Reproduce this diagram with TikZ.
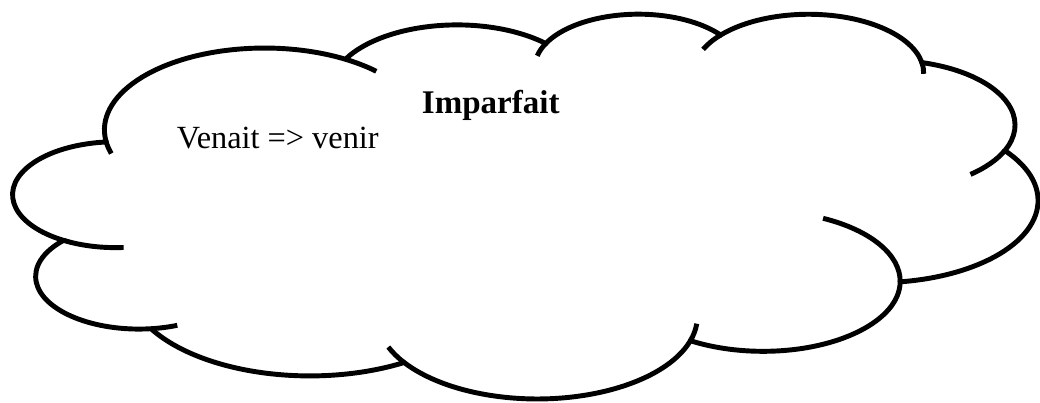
\documentclass[tikz,border=0pt]{standalone}
\usepackage{fontspec}
\setmainfont{Liberation Serif}

\begin{document}
\begin{tikzpicture}[%
      x=0.5927cm, y=-0.2226cm,
      cloudline/.style={color=black, line width=3.5pt},
      ]
      \useasboundingbox [fill=white] (-0.5673,-1.4544) rectangle (43.300,43.806);

      % outline of the cloud, one arc per bump
      \draw [cloudline, fill=white] (3.900,14.370) coordinate (j1)
        arc [start angle=-187.75, end angle=-59.64, x radius=6.753, y radius=9.190] coordinate (j2)
        arc [start angle=-152.03, end angle=-45.46, x radius=5.333, y radius=7.267] coordinate (j3)
        arc [start angle=-153.49, end angle=-37.33, x radius=4.365, y radius=5.945] coordinate (j4)
        arc [start angle=-139.72, end angle=-10.21, x radius=4.857, y radius=6.595] coordinate (j5)
        arc [start angle=-74.76, end angle=23.21, x radius=5.333, y radius=7.273] coordinate (j6)
        arc [start angle=-37.53, end angle=81.86, x radius=6.775, y radius=9.220] coordinate (j7)
        arc [start angle=0.46, end angle=121.98, x radius=5.785, y radius=7.867] coordinate (j8)
        arc [start angle=16.85, end angle=146.24, x radius=6.752, y radius=9.215] coordinate (j9)
        arc [start angle=58.99, end angle=150.19, x radius=7.720, y radius=10.543] coordinate (j10)
        arc [start angle=-276.69, end angle=-136.89, x radius=4.360, y radius=5.918] coordinate (j11)
        arc [start angle=-239.64, end angle=-95.89, x radius=4.345, y radius=5.945]
        -- cycle;

      % little hooks at the joints
      \draw [cloudline] (j1) arc [start angle=172.25, end angle=163.19, x radius=6.753, y radius=9.190];
      \draw [cloudline] (j2) arc [start angle=-59.64, end angle=-45.73, x radius=6.753, y radius=9.190];
      \draw [cloudline] (j3) arc [start angle=-153.49, end angle=-167.72, x radius=4.365, y radius=5.945];
      \draw [cloudline] (j4) arc [start angle=-139.72, end angle=-156.28, x radius=4.857, y radius=6.595];
      \draw [cloudline] (j5) arc [start angle=-10.21, end angle=0.82, x radius=4.857, y radius=6.595];
      \draw [cloudline] (j6) arc [start angle=23.21, end angle=49.64, x radius=5.333, y radius=7.273];
      \draw [cloudline] (j7) arc [start angle=0.46, end angle=-64.03, x radius=5.785, y radius=7.867];
      \draw [cloudline] (j8) arc [start angle=16.85, end angle=4.74, x radius=6.752, y radius=9.215];
      \draw [cloudline] (j9) arc [start angle=146.24, end angle=158.47, x radius=6.752, y radius=9.215];
      \draw [cloudline] (j10) arc [start angle=83.31, end angle=68.24, x radius=4.360, y radius=5.918];
      \draw [cloudline] (j11) arc [start angle=120.36, end angle=85.55, x radius=4.345, y radius=5.945];

      \node [anchor=base west, inner sep=0pt, font=\fontsize{23.5}{28}\selectfont\bfseries] (title) at (17.22,11.27) {Imparfait};
      \node [anchor=base west, inner sep=0pt, font=\fontsize{23}{28}\selectfont] (verb) at (6.886,15.20) {Venait => venir};
      \end{tikzpicture}
\end{document}
